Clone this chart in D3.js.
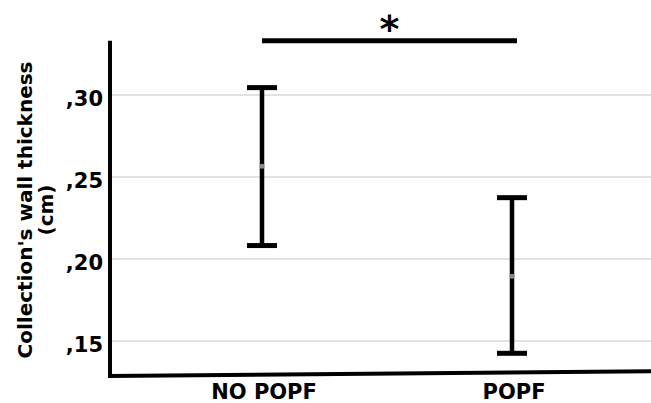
<!DOCTYPE html>
<html>
<head>
<meta charset="utf-8">
<script src="https://cdn.jsdelivr.net/npm/d3@7/dist/d3.min.js"></script>
<style>
  html, body { margin: 0; padding: 0; background: #fff; }
  svg { display: block; }
  text { font-family: "DejaVu Sans", sans-serif; fill: #000; }
</style>
</head>
<body>
<svg id="chart" width="651" height="403"></svg>
<script>
// Groups and their 95% CI error bars (mean with lower/upper limits), in cm
const categories = ["NO POPF", "POPF"];
const means = [0.2565, 0.1895];
const lower = [0.2082, 0.1425];
const upper = [0.3045, 0.2374];
const yTicks = [0.15, 0.20, 0.25, 0.30];
const yTitle = ["Collection's wall thickness", "(cm)"];
const sigLabel = "*";

const W = 651, H = 403;
const svg = d3.select("#chart");

const yLow = 0.1287, yHigh = 0.3331;
const y = d3.scaleLinear().domain([0.15, 0.30]).range([341, 95]);
const x = d3.scalePoint().domain(categories).range([262, 512]);
const axisX = 110, rightX = W;

// tick labels like ",30" (decimal comma, no leading zero)
const loc = d3.formatLocale({ decimal: ",", thousands: ".", grouping: [3], currency: ["", ""] });
const fmt = v => loc.format(".2f")(v).replace(/^0/, "");

// horizontal gridlines
svg.append("g")
  .selectAll("line")
  .data(yTicks)
  .join("line")
  .attr("x1", axisX).attr("x2", rightX)
  .attr("y1", d => y(d)).attr("y2", d => y(d))
  .attr("stroke", "#d9d9d9").attr("stroke-width", 1.5);

// y tick labels
svg.append("g")
  .selectAll("text")
  .data(yTicks)
  .join("text")
  .attr("x", 103)
  .attr("y", d => y(d) + 4)
  .attr("dy", "0.35em")
  .attr("text-anchor", "end")
  .attr("font-size", 21)
  .attr("font-weight", "bold")
  .text(fmt);

// axes
svg.append("line")
  .attr("x1", axisX).attr("x2", axisX)
  .attr("y1", y(yHigh)).attr("y2", y(yLow) + 2)
  .attr("stroke", "#000").attr("stroke-width", 4);
svg.append("line")
  .attr("x1", axisX - 2).attr("x2", rightX)
  .attr("y1", y(yLow)).attr("y2", y(yLow) - (rightX - axisX) * 0.0088)
  .attr("stroke", "#000").attr("stroke-width", 4);

// y title
const yt = svg.append("text")
  .attr("transform", "translate(0,210) rotate(-90)")
  .attr("text-anchor", "middle")
  .attr("font-size", 20)
  .attr("font-weight", "bold");
yt.append("tspan").attr("x", 0).attr("y", 32).text(yTitle[0]);
yt.append("tspan").attr("x", 0).attr("y", 53).text(yTitle[1]);

// error bars
const data = categories.map((c, i) => ({ c, m: means[i], lo: lower[i], hi: upper[i] }));
const capW = 30;
const g = svg.append("g").selectAll("g").data(data).join("g");
g.append("line")
  .attr("x1", d => x(d.c)).attr("x2", d => x(d.c))
  .attr("y1", d => y(d.hi)).attr("y2", d => y(d.lo))
  .attr("stroke", "#000").attr("stroke-width", 4.5);
g.append("line")
  .attr("x1", d => x(d.c) - capW / 2).attr("x2", d => x(d.c) + capW / 2)
  .attr("y1", d => y(d.hi)).attr("y2", d => y(d.hi))
  .attr("stroke", "#000").attr("stroke-width", 5);
g.append("line")
  .attr("x1", d => x(d.c) - capW / 2).attr("x2", d => x(d.c) + capW / 2)
  .attr("y1", d => y(d.lo)).attr("y2", d => y(d.lo))
  .attr("stroke", "#000").attr("stroke-width", 5);
g.append("circle")
  .attr("cx", d => x(d.c)).attr("cy", d => y(d.m))
  .attr("r", 2.5)
  .attr("fill", "#8a8a8a");

// category labels
svg.append("g")
  .selectAll("text")
  .data(categories)
  .join("text")
  .attr("x", d => x(d) + 2)
  .attr("y", 399)
  .attr("text-anchor", "middle")
  .attr("font-size", 21)
  .attr("font-weight", "bold")
  .text(d => d);

// significance bracket
const sigY = 40.7;
svg.append("line")
  .attr("x1", x(categories[0])).attr("x2", x(categories[1]) + 5)
  .attr("y1", sigY).attr("y2", sigY)
  .attr("stroke", "#000").attr("stroke-width", 5);
svg.append("text")
  .attr("x", (x(categories[0]) + x(categories[1]) + 5) / 2)
  .attr("y", 42)
  .attr("text-anchor", "middle")
  .attr("font-size", 38)
  .attr("font-weight", "bold")
  .text(sigLabel);
</script>
</body>
</html>
